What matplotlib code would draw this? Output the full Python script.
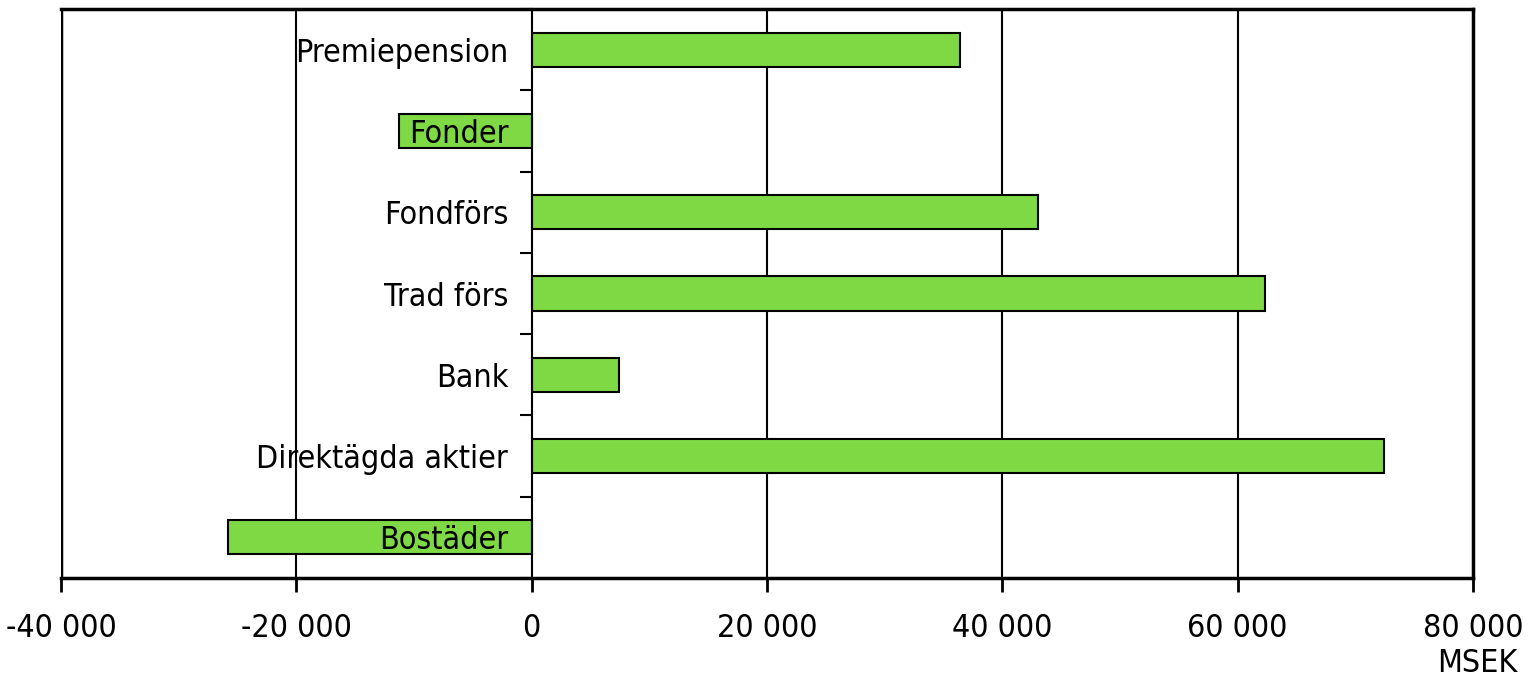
import numpy as np
import matplotlib.pyplot as plt
from matplotlib.ticker import FuncFormatter

# data (MSEK), top to bottom
kategorier = ["Premiepension", "Fonder", "Fondförs", "Trad förs", "Bank",
              "Direktägda aktier", "Bostäder"]
varden = [36400, -11300, 43000, 62300, 7400, 72400, -25800]

plt.rcParams['font.family'] = ['DejaVu Sans']
plt.rcParams['font.stretch'] = 'condensed'

fig = plt.figure(figsize=(15.28, 6.79), dpi=100)
ax = fig.add_axes([61/1528, 1 - 578/679, (1473-61)/1528, (578-9)/679])

n = len(kategorier)
y = np.arange(n)[::-1]
ax.barh(y, varden, height=0.42, color='#7FD944', edgecolor='black',
        linewidth=1.5, zorder=3)

ax.set_xlim(-40000, 80000)
ax.set_ylim(-0.5, n - 0.5)

# vertical grid lines
for gx in [-20000, 20000, 40000, 60000]:
    ax.axvline(gx, color='black', linewidth=1.5, zorder=1)
ax.axvline(-40000, color='black', linewidth=2.5, zorder=4)

# y-axis at zero with ticks between categories
ax.spines['left'].set_position(('data', 0))
ax.spines['left'].set_linewidth(1.5)
ax.spines['left'].set_zorder(4)
for s in ['top', 'right', 'bottom']:
    ax.spines[s].set_linewidth(2.5)
ax.set_yticks(np.arange(-0.5, n, 1.0))
ax.set_yticklabels([])
ax.tick_params(axis='y', direction='out', length=9, width=1.5)

ax.set_xticks(np.arange(-40000, 80001, 20000))
ax.xaxis.set_major_formatter(FuncFormatter(lambda v, p: f"{int(v):,}".replace(",", " ")))
ax.tick_params(axis='x', direction='out', length=10, width=2, labelsize=23, pad=15)

for yi, lab in zip(y, kategorier):
    ax.text(-2000, yi, lab, ha='right', va='center_baseline', fontsize=23, zorder=5)

fig.text(1518/1528, 1 - 663/679, "MSEK", ha='right', va='center', fontsize=23)

fig.savefig("out.png", dpi=100)
